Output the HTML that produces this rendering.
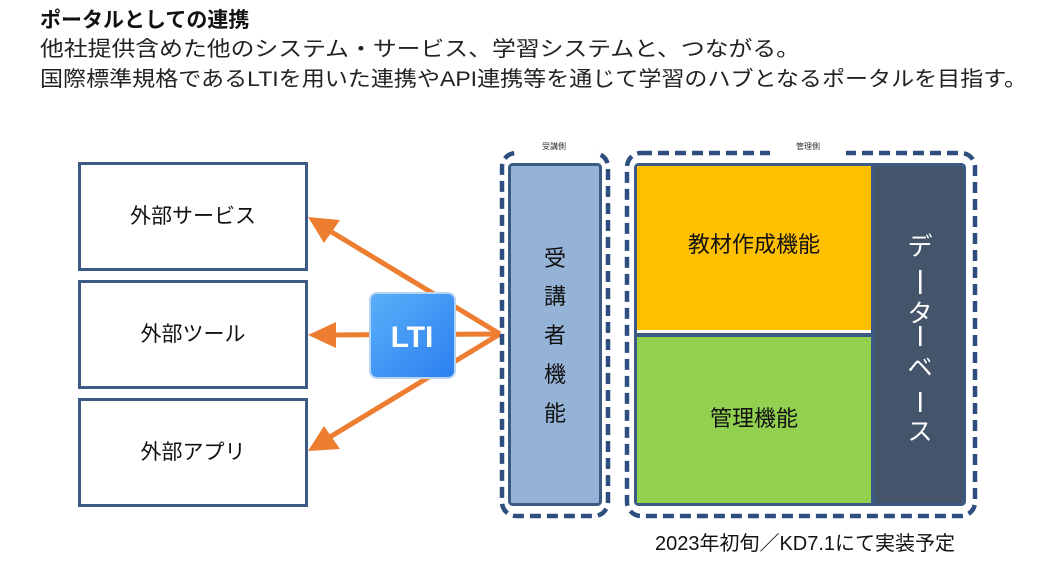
<!DOCTYPE html>
<html><head><meta charset="utf-8"><style>
html,body{margin:0;padding:0;background:#fff;width:1048px;height:586px;overflow:hidden}
svg text{font-family:"Liberation Sans","Noto Sans CJK JP",sans-serif}
</style></head><body>
<svg width="1048" height="586" viewBox="0 0 1048 586" xmlns="http://www.w3.org/2000/svg">
<defs>
<linearGradient id="lg" x1="0" y1="0" x2="1" y2="1">
<stop offset="0" stop-color="#5ab0f8"/><stop offset="1" stop-color="#2a7ff0"/>
</linearGradient>
</defs>
<text x="40" y="27" font-size="21" font-weight="bold" fill="#111">ポータルとしての連携</text>
<text x="40" y="56" font-size="21" fill="#222" textLength="760" lengthAdjust="spacingAndGlyphs">他社提供含めた他のシステム・サービス、学習システムと、つながる。</text>
<text x="40" y="86" font-size="21" fill="#222" textLength="987" lengthAdjust="spacingAndGlyphs">国際標準規格であるLTIを用いた連携やAPI連携等を通じて学習のハブとなるポータルを目指す。</text>

<g fill="#fff" stroke="#3b5b85" stroke-width="3">
<rect x="79.5" y="163.5" width="227" height="106"/>
<rect x="79.5" y="281.5" width="227" height="106"/>
<rect x="79.5" y="399.5" width="227" height="106"/>
</g>
<g font-size="21" fill="#111" text-anchor="middle">
<text x="193" y="223">外部サービス</text>
<text x="193" y="341">外部ツール</text>
<text x="193" y="459">外部アプリ</text>
</g>

<g stroke="#ed7d31" stroke-width="5" fill="none">
<line x1="500" y1="334" x2="325" y2="228"/>
<line x1="500" y1="334" x2="328" y2="335"/>
<line x1="500" y1="334" x2="325" y2="440"/>
</g>
<g fill="#ed7d31">
<polygon points="308,217 340,220 324,243"/>
<polygon points="308,335 336,322 336,348"/>
<polygon points="308,451 324,426 340,449"/>
</g>
<rect x="370" y="293" width="85" height="85" rx="7" fill="url(#lg)" stroke="#b8d4f4" stroke-width="2"/>
<text x="412" y="347" font-size="30" font-weight="bold" fill="#fff" text-anchor="middle">LTI</text>

<rect x="502" y="153" width="106" height="363" rx="14" fill="none" stroke="#2e4e80" stroke-width="4.5" stroke-dasharray="11,6"/>
<rect x="627" y="153" width="348" height="363" rx="14" fill="none" stroke="#2e4e80" stroke-width="4.5" stroke-dasharray="11,6"/>
<rect x="515" y="146" width="80" height="10" fill="#fff"/>
<rect x="770" y="146" width="76" height="10" fill="#fff"/>
<text x="554" y="149" font-size="8" fill="#333" text-anchor="middle">受講側</text>
<text x="808" y="149" font-size="8" fill="#333" text-anchor="middle">管理側</text>

<rect x="509.5" y="164.5" width="91" height="340" rx="3" fill="#95b3d7" stroke="#3b5b85" stroke-width="3"/>
<g font-size="22" fill="#111" text-anchor="middle">
<text x="555" y="266">受</text>
<text x="555" y="304">講</text>
<text x="555" y="343">者</text>
<text x="555" y="382">機</text>
<text x="555" y="421">能</text>
</g>

<rect x="635.5" y="164.5" width="329" height="340" rx="3" fill="#44546a" stroke="#3b5b85" stroke-width="3"/>
<rect x="637" y="166" width="234" height="164" fill="#ffc000"/>
<rect x="637" y="330" width="234" height="3" fill="#fff"/>
<rect x="637" y="333" width="234" height="4" fill="#3b5b85"/>
<rect x="637" y="337" width="234" height="166" fill="#92d050"/>
<rect x="871" y="166" width="4" height="337" fill="#3b5b85"/>
<text x="754" y="252" font-size="22" fill="#111" text-anchor="middle">教材作成機能</text>
<text x="754" y="426" font-size="22" fill="#111" text-anchor="middle">管理機能</text>
<g font-size="25" fill="#fff" text-anchor="middle">
<text x="920" y="255">デ</text>
<text x="920" y="322">タ</text>
<text x="920" y="376">ベ</text>
<text x="920" y="440">ス</text>
</g>
<g fill="#fff">
<rect x="919" y="270" width="2.5" height="24"/>
<rect x="919" y="326" width="2.5" height="20"/>
<rect x="919" y="392" width="2.5" height="20"/>
</g>

<text x="805" y="550" font-size="20" fill="#111" text-anchor="middle">2023年初旬／KD7.1にて実装予定</text>
</svg>
</body></html>
